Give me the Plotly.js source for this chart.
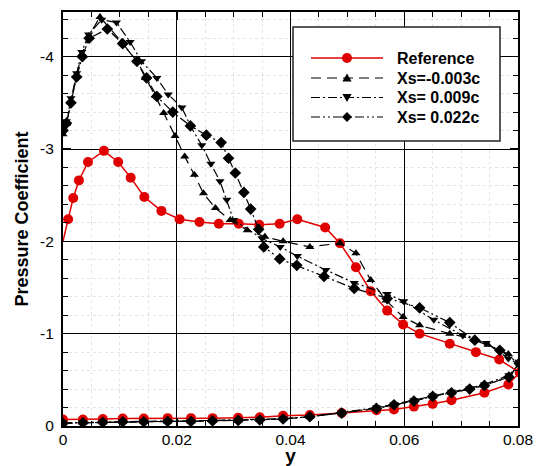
<!DOCTYPE html>
<html>
<head>
<meta charset="utf-8">
<script src="https://cdn.plot.ly/plotly-3.0.1.min.js"></script>
<style>html,body{margin:0;padding:0;background:#fff;}#chart{width:539px;height:466px;}</style>
</head>
<body>
<div id="chart"></div>
<script>
// ---- Reference (red) ----
var refLowerX = [0, 0.0035, 0.007, 0.0105, 0.0142, 0.0184, 0.0225, 0.0263, 0.0308, 0.0346, 0.0387, 0.0434, 0.049, 0.0551, 0.0582, 0.0617, 0.065, 0.0683, 0.0741, 0.0783, 0.0803];
var refLowerY = [-0.07, -0.07, -0.075, -0.08, -0.08, -0.085, -0.085, -0.085, -0.09, -0.095, -0.11, -0.12, -0.14, -0.17, -0.18, -0.21, -0.24, -0.28, -0.36, -0.45, -0.58];
var refUpperX = [0.0767, 0.0726, 0.068, 0.0627, 0.0598, 0.057, 0.0541, 0.0515, 0.0487, 0.0461, 0.0412, 0.0381, 0.0345, 0.0309, 0.0274, 0.024, 0.0205, 0.0173, 0.0143, 0.0119, 0.0097, 0.0072, 0.0044, 0.0028, 0.0018, 0.0009];
var refUpperY = [-0.72, -0.80, -0.89, -1.00, -1.10, -1.25, -1.46, -1.72, -1.98, -2.15, -2.24, -2.19, -2.18, -2.19, -2.19, -2.21, -2.24, -2.33, -2.48, -2.69, -2.86, -2.98, -2.86, -2.66, -2.47, -2.24];
var refLeX = [0];
var refLeY = [-2.0];

// ---- Xs=-0.003c (triangle-up) ----
var s1LowerX = [0, 0.0035, 0.007, 0.0105, 0.0142, 0.0184, 0.0225, 0.0263, 0.0308, 0.0346, 0.0387, 0.0434, 0.049, 0.0551, 0.0582, 0.0617, 0.065, 0.0683, 0.0715, 0.0741, 0.0784];
var s1LowerY = [-0.03, -0.035, -0.04, -0.045, -0.045, -0.05, -0.05, -0.055, -0.06, -0.065, -0.076, -0.10, -0.14, -0.19, -0.23, -0.27, -0.32, -0.36, -0.40, -0.44, -0.53];
var s1UpperX = [0.0803, 0.0783, 0.0747, 0.0724, 0.068, 0.0627, 0.0598, 0.0568, 0.0541, 0.0515, 0.0487, 0.0434, 0.0387, 0.0355, 0.0324, 0.0294, 0.0268, 0.0247, 0.0231, 0.0214, 0.0197, 0.0177, 0.0162, 0.0145, 0.013, 0.0103, 0.0065, 0.0045, 0.0033, 0.0024, 0.0014, 0.0006, 0];
var s1UpperY = [-0.67, -0.78, -0.88, -0.94, -1.00, -1.09, -1.18, -1.36, -1.58, -1.87, -1.98, -1.94, -2.00, -2.05, -2.12, -2.23, -2.36, -2.52, -2.72, -2.92, -3.14, -3.39, -3.58, -3.77, -3.95, -4.16, -4.43, -4.22, -4.03, -3.80, -3.52, -3.27, -3.16];

// ---- Xs= 0.009c (triangle-down) ----
var s2LowerX = [0, 0.0035, 0.007, 0.0105, 0.0142, 0.0184, 0.0225, 0.0263, 0.0308, 0.0346, 0.0387, 0.0434, 0.049, 0.0551, 0.0582, 0.0617, 0.065, 0.0683, 0.0715, 0.0741, 0.0784];
var s2LowerY = [-0.035, -0.04, -0.045, -0.05, -0.05, -0.055, -0.055, -0.06, -0.065, -0.07, -0.08, -0.10, -0.145, -0.20, -0.235, -0.28, -0.33, -0.37, -0.41, -0.45, -0.55];
var s2UpperX = [0.0802, 0.0783, 0.0744, 0.0703, 0.0652, 0.0599, 0.057, 0.0512, 0.0462, 0.0412, 0.0382, 0.035, 0.030, 0.0288, 0.0276, 0.026, 0.0244, 0.0224, 0.0209, 0.0185, 0.0165, 0.0138, 0.0118, 0.0094, 0.0068, 0.0045, 0.0033, 0.0024, 0.0014, 0.0006, 0];
var s2UpperY = [-0.67, -0.73, -0.90, -0.98, -1.15, -1.35, -1.43, -1.55, -1.69, -1.84, -1.94, -2.03, -2.23, -2.45, -2.65, -2.84, -3.04, -3.25, -3.45, -3.59, -3.77, -3.95, -4.16, -4.37, -4.40, -4.24, -4.05, -3.82, -3.55, -3.30, -3.20];

// ---- Xs= 0.022c (diamond) ----
var s3LowerX = [0, 0.0035, 0.007, 0.0105, 0.0142, 0.0184, 0.0225, 0.0263, 0.0308, 0.0346, 0.0387, 0.0434, 0.049, 0.0551, 0.0582, 0.0617, 0.065, 0.0683, 0.0715, 0.0741, 0.0784];
var s3LowerY = [-0.03, -0.035, -0.04, -0.045, -0.045, -0.05, -0.05, -0.055, -0.06, -0.065, -0.076, -0.10, -0.14, -0.19, -0.23, -0.27, -0.32, -0.36, -0.40, -0.44, -0.53];
var s3UpperX = [0.0802, 0.0768, 0.0724, 0.068, 0.0627, 0.057, 0.0512, 0.0459, 0.0411, 0.0381, 0.0353, 0.0344, 0.033, 0.0318, 0.0303, 0.0291, 0.0278, 0.0252, 0.0224, 0.0193, 0.0165, 0.0147, 0.013, 0.0105, 0.0078, 0.0046, 0.0034, 0.0024, 0.0014, 0.0006, 0];
var s3UpperY = [-0.68, -0.82, -0.93, -1.12, -1.28, -1.38, -1.49, -1.62, -1.74, -1.81, -1.94, -2.13, -2.35, -2.53, -2.74, -2.90, -3.07, -3.15, -3.25, -3.40, -3.57, -3.77, -3.95, -4.14, -4.30, -4.20, -4.00, -3.78, -3.50, -3.28, -3.20];

// ---- axis ticks ----
var xTickVals = [0, 0.02, 0.04, 0.06, 0.08];
var xTickText = ['0', '0.02', '0.04', '0.06', '0.08'];
var yTickVals = [-4, -3, -2, -1, 0];
var yTickText = ['-4', '-3', '-2', '-1', '0'];
var seriesNames = ['Reference', 'Xs=-0.003c', 'Xs= 0.009c', 'Xs= 0.022c'];

var RED = '#e00000';
var FONT = 'Liberation Sans, Arial, sans-serif';
var styles = [
  {color: RED, dash: 'solid', width: 1.5, symbol: 'circle', size: 10},
  {color: '#000', dash: '10px,6px', width: 1.2, symbol: 'triangle-up', size: 8},
  {color: '#000', dash: '9px,3px,2px,3px', width: 1.2, symbol: 'triangle-down', size: 8},
  {color: '#000', dash: '9px,3px,2px,3px,2px,3px', width: 1.2, symbol: 'diamond', size: 9}
];

function mk(i, xs, ys) {
  var s = styles[i];
  return {x: xs, y: ys, name: seriesNames[i], mode: 'lines+markers', showlegend: false,
    line: {color: s.color, width: s.width, dash: s.dash},
    marker: {symbol: s.symbol, size: s.size, color: s.color, line: {width: 0}}};
}

var traces = [
  mk(0, refLowerX.concat(refUpperX), refLowerY.concat(refUpperY)),
  {x: refUpperX.slice(-1).concat(refLeX), y: refUpperY.slice(-1).concat(refLeY), mode: 'lines', showlegend: false,
   line: {color: RED, width: 1.5}, hoverinfo: 'skip'},
  mk(1, s1LowerX.concat(s1UpperX), s1LowerY.concat(s1UpperY)),
  mk(2, s2LowerX.concat(s2UpperX), s2LowerY.concat(s2UpperY)),
  mk(3, s3LowerX.concat(s3UpperX), s3LowerY.concat(s3UpperY))
];

function px2paperX(p){ return (p - 63) / 455; }
function px2paperY(p){ return (426 - p) / 414; }

// ---- legend box (drawn as shapes + annotations) ----
var legendRowsPx = [58, 78, 97.5, 117];
var shapes = [
  {type: 'rect', xref: 'paper', yref: 'paper', layer: 'above',
   x0: px2paperX(293), x1: px2paperX(500), y0: px2paperY(141), y1: px2paperY(27),
   fillcolor: '#fff', line: {color: '#222', width: 1.5}}
];
var annotations = [];
var markerPaths = {
  'triangle-up': 'M-4.6,-3.6 L4.6,-3.6 L0,4.4 Z',
  'triangle-down': 'M-4.6,3.6 L4.6,3.6 L0,-4.4 Z',
  'diamond': 'M0,-5 L5,0 L0,5 L-5,0 Z'
};
legendRowsPx.forEach(function(rowPx, i) {
  var s = styles[i];
  var yp = px2paperY(rowPx);
  shapes.push({type: 'line', xref: 'paper', yref: 'paper', layer: 'above',
    x0: px2paperX(311), x1: px2paperX(383), y0: yp, y1: yp,
    line: {color: s.color, width: s.width, dash: s.dash}});
  if (s.symbol === 'circle') {
    shapes.push({type: 'circle', xref: 'paper', yref: 'paper', layer: 'above',
      xsizemode: 'pixel', ysizemode: 'pixel', xanchor: px2paperX(347), yanchor: yp,
      x0: -5, x1: 5, y0: -5, y1: 5, fillcolor: s.color, line: {width: 0}});
  } else {
    shapes.push({type: 'path', xref: 'paper', yref: 'paper', layer: 'above',
      xsizemode: 'pixel', ysizemode: 'pixel', xanchor: px2paperX(347), yanchor: yp,
      path: markerPaths[s.symbol], fillcolor: s.color, line: {width: 0}});
  }
  annotations.push({xref: 'paper', yref: 'paper', x: px2paperX(395), y: yp,
    xanchor: 'left', yanchor: 'middle', showarrow: false, text: seriesNames[i],
    font: {family: FONT, size: 16, color: '#000', weight: 'bold'}});
});

var layout = {
  width: 539, height: 466,
  margin: {l: 63, r: 21, t: 12, b: 40, autoexpand: false},
  paper_bgcolor: '#fff', plot_bgcolor: '#fff',
  font: {family: FONT, size: 15.5, color: '#000'},
  showlegend: false,
  xaxis: {
    range: [0, 0.08], tickvals: xTickVals, ticktext: xTickText,
    ticks: 'inside', ticklen: 8, tickwidth: 1.5, tickcolor: '#000',
    showline: true, linecolor: '#000', linewidth: 2, mirror: 'allticks',
    showgrid: true, gridcolor: '#000', gridwidth: 1, zeroline: false,
    minor: {dtick: 0.005, tick0: 0, ticks: 'inside', ticklen: 5, tickwidth: 1, tickcolor: '#000',
            showgrid: true, gridcolor: '#e4e4e4', griddash: 'dot', gridwidth: 1},
    tickfont: {family: FONT, size: 15.5, color: '#000'},
    ticklabelstandoff: -2,
    title: {text: 'y', font: {family: FONT, size: 19, color: '#000', weight: 'bold'}, standoff: 0},
    automargin: false
  },
  yaxis: {
    range: [0, -4.484], tickvals: yTickVals, ticktext: yTickText,
    ticks: 'inside', ticklen: 8, tickwidth: 1.5, tickcolor: '#000',
    showline: true, linecolor: '#000', linewidth: 2, mirror: 'allticks',
    showgrid: true, gridcolor: '#000', gridwidth: 1, zeroline: false,
    minor: {dtick: 0.2, tick0: 0, ticks: 'inside', ticklen: 5, tickwidth: 1, tickcolor: '#000',
            showgrid: true, gridcolor: '#e4e4e4', griddash: 'dot', gridwidth: 1},
    tickfont: {family: FONT, size: 15.5, color: '#000'},
    ticklabelstandoff: 4,
    title: {text: 'Pressure Coefficient', font: {family: FONT, size: 18, color: '#000', weight: 'bold'}, standoff: 7},
    automargin: false
  },
  shapes: shapes,
  annotations: annotations
};

Plotly.newPlot('chart', traces, layout, {displayModeBar: false, staticPlot: true});
</script>
</body>
</html>
